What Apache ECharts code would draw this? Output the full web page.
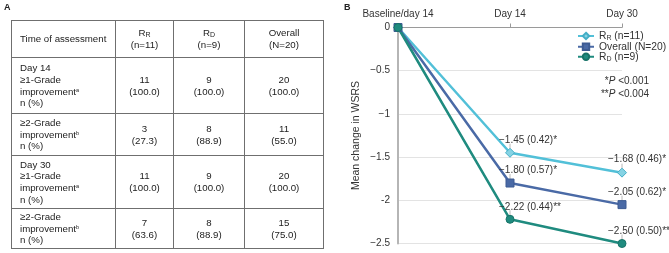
<!DOCTYPE html>
<html><head><meta charset="utf-8">
<script src="https://cdn.jsdelivr.net/npm/echarts@6/dist/echarts.min.js"></script>
<style>
html,body{margin:0;padding:0;background:#fff;}
#wrap{position:relative;width:669px;height:253px;overflow:hidden;font-family:"Liberation Sans",Arial,sans-serif;}
#chart{position:absolute;left:0;top:0;width:669px;height:253px;}
#tbl{position:absolute;left:11px;top:20px;border-collapse:collapse;table-layout:fixed;font-size:9.7px;color:#222;line-height:11.7px;z-index:2;}
#tbl td{border:1px solid #6f6f6f;padding:0;vertical-align:middle;text-align:center;}
#tbl td.l{text-align:left;padding-left:8px;}
#tbl sub{font-size:7px;vertical-align:-1px;line-height:0;}
#tbl sup{font-size:5.5px;vertical-align:3px;line-height:0;}
</style></head>
<body><div id="wrap"><div id="chart"></div><table id="tbl"></table></div>
<script>
// ---------- Table data (panel A) ----------
const headerFirst = 'Time of assessment';
const groupMain = ['R', 'R', 'Overall'];
const groupSub = ['R', 'D', ''];
const groupN = ['(n=11)', '(n=9)', '(N=20)'];
const rowLabelLines = [
  ['Day 14', '≥1-Grade', 'improvement|a', 'n (%)'],
  ['≥2-Grade', 'improvement|b', 'n (%)'],
  ['Day 30', '≥1-Grade', 'improvement|a', 'n (%)'],
  ['≥2-Grade', 'improvement|b', 'n (%)']
];
const rowCounts = [[11, 9, 20], [3, 8, 11], [11, 9, 20], [7, 8, 15]];
const rowPercents = [['100.0', '100.0', '100.0'], ['27.3', '88.9', '55.0'], ['100.0', '100.0', '100.0'], ['63.6', '88.9', '75.0']];

// ---------- Chart data (panel B) ----------
const timepoints = ['Baseline/day 14', 'Day 14', 'Day 30'];
const rrValues = [0, -1.45, -1.68];
const overallValues = [0, -1.80, -2.05];
const rdValues = [0, -2.22, -2.50];
const rrLabels = ['', '−1.45 (0.42)*', '−1.68 (0.46)*'];
const overallLabels = ['', '−1.80 (0.57)*', '−2.05 (0.62)*'];
const rdLabels = ['', '−2.22 (0.44)**', '−2.50 (0.50)**'];
const yTicks = [0, -0.5, -1, -1.5, -2, -2.5];
const yTickLabels = ['0', '−0.5', '−1', '−1.5', '-2', '−2.5'];

// build table
(function(){
  const colW = [104, 58, 71, 79];
  const rowH = [37, 56, 42, 53, 40];
  let h = '<colgroup>' + colW.map(w => '<col style="width:' + w + 'px">').join('') + '</colgroup>';
  h += '<tr style="height:' + rowH[0] + 'px"><td class="l">' + headerFirst + '</td>';
  for (let i = 0; i < 3; i++) {
    h += '<td>' + groupMain[i] + (groupSub[i] ? '<sub>' + groupSub[i] + '</sub>' : '') + '<br>' + groupN[i] + '</td>';
  }
  h += '</tr>';
  rowLabelLines.forEach((lines, r) => {
    const lab = lines.map(s => { const p = s.split('|'); return p[0] + (p[1] ? '<sup>' + p[1] + '</sup>' : ''); }).join('<br>');
    h += '<tr style="height:' + rowH[r + 1] + 'px"><td class="l">' + lab + '</td>';
    for (let c = 0; c < 3; c++) h += '<td>' + rowCounts[r][c] + '<br>(' + rowPercents[r][c] + ')</td>';
    h += '</tr>';
  });
  document.getElementById('tbl').innerHTML = h;
})();

const FONT = '"Liberation Sans", Arial, sans-serif';
function mkSeries(name, vals, labels, color, symbol, fill, border) {
  return {
    name: name, type: 'line', data: vals.map((v, i) => ({
      value: v,
      label: { show: !!labels[i], formatter: labels[i] || '', offset: [i === 1 ? -11 : -14, 2] }
    })),
    symbol: symbol, symbolSize: symbol === 'diamond' ? 9 : 8,
    lineStyle: { color: color, width: 2.5 },
    itemStyle: { color: fill, borderColor: border, borderWidth: 1 },
    label: { position: 'top', align: 'left', fontSize: 10, color: '#333', fontFamily: FONT },
    emphasis: { disabled: true }, z: 3
  };
}
const labelSets = [[rrValues, rrLabels], [overallValues, overallLabels], [rdValues, rdLabels]];
const leaderPoints = [];
labelSets.forEach(([vals, labs]) => vals.forEach((v, i) => { if (labs[i]) leaderPoints.push([i, v]); }));

const chart = echarts.init(document.getElementById('chart'));
chart.setOption({
  animation: false,
  textStyle: { fontFamily: FONT },
  grid: { left: 398, right: 47, top: 27.5, bottom: 9.5, containLabel: false },
  xAxis: {
    type: 'category', position: 'top', data: timepoints, boundaryGap: false,
    axisLine: { lineStyle: { color: '#9a9a9a', width: 1 } },
    axisTick: { show: true, length: 4, lineStyle: { color: '#9a9a9a' } },
    axisLabel: { fontSize: 10, color: '#333', margin: 8, fontFamily: FONT },
    splitLine: { show: false }
  },
  yAxis: {
    type: 'value', min: -2.5, max: 0, interval: 0.5,
    name: 'Mean change in WSRS', nameLocation: 'middle', nameGap: 36, nameRotate: 90,
    nameTextStyle: { fontSize: 10.5, color: '#333', fontFamily: FONT },
    axisLine: { show: true, lineStyle: { color: '#b5b5b5', width: 2 } },
    axisTick: { show: false },
    axisLabel: { fontSize: 10, color: '#333', margin: 8, fontFamily: FONT,
      formatter: v => { const k = yTicks.indexOf(Math.round(v * 10) / 10); return k >= 0 ? yTickLabels[k] : ''; } },
    splitLine: { show: true, lineStyle: { color: '#e3e3e3', width: 1 } }
  },
  legend: {
    data: ['RR', 'Overall', 'RD'], orient: 'vertical', left: 577, top: 31, padding: 0,
    itemWidth: 16, itemHeight: 8, itemGap: 0,
    textStyle: { fontSize: 10.3, color: '#333', fontFamily: FONT,
      rich: { n: { fontSize: 10.3, lineHeight: 11.5, fontFamily: FONT, color: '#333' },
              s: { fontSize: 7, lineHeight: 7, verticalAlign: 'bottom', fontFamily: FONT, color: '#333' } } },
    formatter: n => n === 'RR' ? '{n|R}{s|R}{n| (n=11)}' : n === 'RD' ? '{n|R}{s|D}{n| (n=9)}' : '{n|Overall (N=20)}'
  },
  graphic: [
    { type: 'text', left: 4, top: 3, style: { text: 'A', font: 'bold 9px ' + FONT, fill: '#222' } },
    { type: 'text', left: 344, top: 3, style: { text: 'B', font: 'bold 9px ' + FONT, fill: '#222' } },
    { type: 'text', x: 649, y: 81, style: { text: '{n|*}{i|P}{n| <0.001}', align: 'right', verticalAlign: 'middle',
      rich: { n: { fontSize: 10, fontFamily: FONT, fill: '#333' }, i: { fontSize: 10, fontStyle: 'italic', fontFamily: FONT, fill: '#333' } } } },
    { type: 'text', x: 649, y: 94, style: { text: '{n|**}{i|P}{n| <0.004}', align: 'right', verticalAlign: 'middle',
      rich: { n: { fontSize: 10, fontFamily: FONT, fill: '#333' }, i: { fontSize: 10, fontStyle: 'italic', fontFamily: FONT, fill: '#333' } } } }
  ],
  series: [
    { type: 'custom', silent: true, z: 1, data: leaderPoints, encode: { x: 0, y: 1 },
      renderItem: (params, api) => {
        const p = api.coord([api.value(0), api.value(1)]);
        return { type: 'line', shape: { x1: p[0], y1: p[1] - 4, x2: p[0], y2: p[1] - 9 }, style: { stroke: '#b8b8b8', lineWidth: 1 } };
      } },
    mkSeries('RR', rrValues, rrLabels, '#52c0d8', 'diamond', '#86d3e4', '#44aec6'),
    mkSeries('Overall', overallValues, overallLabels, '#4a6aa6', 'rect', '#4a6aa6', '#3d5b93'),
    mkSeries('RD', rdValues, rdLabels, '#1f8b7f', 'circle', '#1f8b7f', '#187368')
  ]
});
</script></body></html>
